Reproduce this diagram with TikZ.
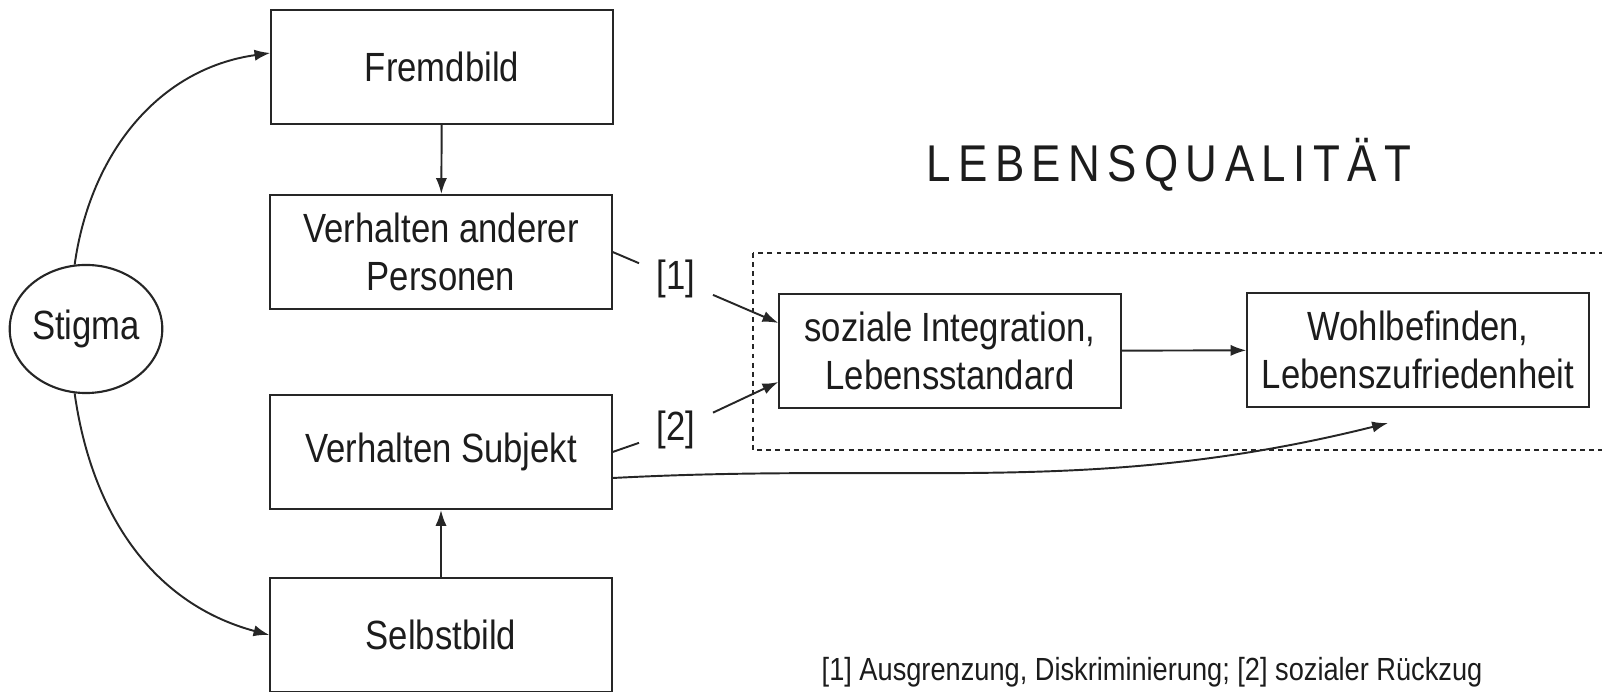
\documentclass[tikz,border=0pt]{standalone}
\usepackage{fontspec}
\setmainfont{Liberation Sans}[FakeStretch=0.85]
\usepackage{xcolor}
\usepackage{tikz}
\usetikzlibrary{arrows.meta,shapes.geometric}
\definecolor{inkline}{HTML}{262626}
\definecolor{inktext}{HTML}{1C1C1C}
\newcommand{\qlgap}{\kern2.1pt}
\tikzset{
  sbox/.style     = {draw=inkline, line width=0.6pt, align=center,
                     minimum width=3.41cm, minimum height=1.14cm, inner sep=0pt,
                     text=inktext, font=\fontsize{11.6}{13.6}\selectfont},
  stigcirc/.style = {ellipse, draw=inkline, line width=0.6pt, inner sep=0pt,
                     minimum width=1.42cm, minimum height=1.28cm,
                     text=inktext, font=\fontsize{11.6}{13.6}\selectfont},
  flow/.style     = {draw=inkline, line width=0.55pt,
                     -{Latex[length=4.5pt,width=3.2pt]}},
  link/.style     = {draw=inkline, line width=0.55pt},
  reflab/.style   = {text=inktext, inner xsep=0.17cm, inner ysep=0.05cm,
                     font=\fontsize{11.6}{13.6}\selectfont},
  qlframe/.style  = {draw=inkline, line width=0.6pt,
                     dash pattern=on 1.4pt off 1.2pt},
  qltitle/.style  = {text=inktext, inner sep=0pt,
                     font=\fontsize{14.7}{17}\selectfont},
  footlab/.style  = {text=inktext, inner sep=0pt,
                     font=\fontsize{9.1}{11}\selectfont},
}

\begin{document}
\begin{tikzpicture}[x=0.01cm, y=0.01cm]
    \useasboundingbox (0,0) rectangle (1602,-692);

    % ---------- node centres -------------------------------------------
    \coordinate (cfr) at (442,-67);    \coordinate (cva) at (441,-252);
    \coordinate (csu) at (441,-452);   \coordinate (cse) at (441,-635);
    \coordinate (cst) at (86,-329);
    \coordinate (cso) at (950,-351);   \coordinate (cwo) at (1418,-350);

    % ---------- Lebensqualitaet frame ------------------------------------
    \draw[qlframe] (753,-253) rectangle (1640,-450);
    \node[qltitle, anchor=base west] (title) at (926,-182)
      {L\qlgap E\qlgap B\qlgap E\qlgap N\qlgap S\qlgap Q\qlgap U\qlgap
       A\qlgap L\qlgap I\qlgap T\qlgap Ä\qlgap T};

    % ---------- left column ---------------------------------------------
    \node[stigcirc] (stig) at (cst) {Stigma};
    \node[sbox] (fremd)  at (cfr) {Fremdbild};
    \node[sbox] (vao)    at (cva) {Verhalten anderer\\Personen};
    \node[sbox] (subj)   at (csu) {Verhalten Subjekt};
    \node[sbox] (selbst) at (cse) {Selbstbild};

    % ---------- right boxes ----------------------------------------------
    \node[sbox] (soz)  at (cso) {soziale Integration,\\Lebensstandard};
    \node[sbox] (wohl) at (cwo) {Wohlbefinden,\\Lebenszufriedenheit};

    % ---------- reference labels -------------------------------------------
    \node[reflab] (lab1) at (676,-279) {[1]};
    \node[reflab] (lab2) at (676,-430) {[2]};
    \coordinate (wofoot) at ([xshift=-0.30cm,yshift=-0.15cm]wohl.south);

    % ---------- connectors ----------------------------------------------
    \draw[flow] (stig.100) to[out=82, in=188] ([yshift=0.14cm]fremd.west);
    \draw[flow] (stig.260) to[out=-82, in=165] (selbst.west);
    \draw[flow] (fremd) -- (vao);
    \draw[flow] (selbst) -- (subj);
    \draw[flow] (soz) -- (wohl);
    \draw[link] (vao.east) -- (lab1);
    \draw[flow] (lab1) -- ([yshift=0.28cm]soz.west);
    \draw[link] (subj.east) -- (lab2);
    \draw[flow] (lab2) -- ([yshift=-0.31cm]soz.west);
    \draw[flow] ([yshift=-0.26cm]subj.east) to[out=3, in=194] (wofoot);

    % ---------- footnote ---------------------------------------------------
    \node[footlab, anchor=base west] (foot) at (821,-681)
      {[1] Ausgrenzung, Diskriminierung; [2] sozialer Rückzug};

\end{tikzpicture}
\end{document}
